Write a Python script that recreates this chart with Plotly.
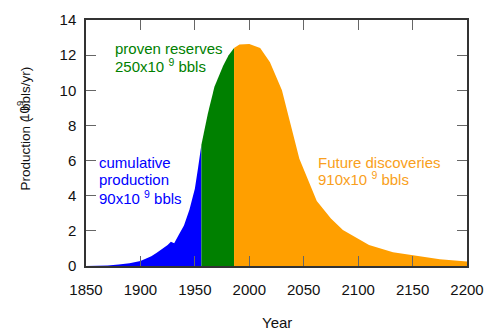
import plotly.graph_objects as go

years = [1850, 1860, 1870, 1880, 1890, 1900, 1905, 1910, 1915, 1920, 1925, 1928,
         1931, 1935, 1940, 1945, 1950, 1953, 1956, 1958, 1962, 1968, 1976, 1981,
         1986, 1991, 2000, 2010, 2019, 2030, 2037, 2046, 2062, 2075, 2086, 2110,
         2132, 2150, 2175, 2200]
production = [0, 0.01, 0.03, 0.08, 0.15, 0.28, 0.42, 0.55, 0.75, 0.95, 1.2, 1.38,
              1.3, 1.75, 2.3, 3.2, 4.4, 5.6, 6.9, 7.5, 8.7, 10.2, 11.4, 12.0,
              12.4, 12.6, 12.63, 12.4, 11.6, 10.0, 8.3, 6.1, 3.7, 2.7, 2.05, 1.2,
              0.78, 0.6, 0.38, 0.25]

split1 = 1956
split2 = 1986

segments = [
    ("cumulative", [y for y in years if y <= split1], "#0000FF"),
    ("proven", [y for y in years if split1 <= y <= split2], "#008000"),
    ("future", [y for y in years if y >= split2], "#FF9F00"),
]
lookup = dict(zip(years, production))

fig = go.Figure()
for name, xs, col in segments:
    fig.add_trace(go.Scatter(
        x=xs, y=[lookup[x] for x in xs], mode="lines", line=dict(width=0, color=col),
        fill="tozeroy", fillcolor=col, name=name, showlegend=False, hoverinfo="skip"))

font = "Liberation Sans, Arial, sans-serif"
FS = 15
axis_common = dict(showline=True, mirror="ticks", linecolor="#333", linewidth=1.5,
                   ticks="inside", ticklen=10, tickcolor="#666", tickwidth=1,
                   showgrid=False, zeroline=False,
                   tickfont=dict(family=font, size=FS, color="#111"))

fig.update_xaxes(range=[1850, 2200], dtick=50, tick0=1850, ticklabelstandoff=9, **axis_common)
fig.update_yaxes(range=[0, 14], dtick=2, tick0=0, ticklabelstandoff=5, **axis_common)

# (text, x-year, y-value of line center, colour)
label_lines = [
    ("proven reserves", 1874.8, (266 - 49.5) / 17.5, "#008000"),
    ("250x10 <sup>9</sup> bbls", 1874.8, (266 - 66.5) / 17.5, "#008000"),
    ("cumulative", 1859.8, (266 - 162.5) / 17.5, "#0000FF"),
    ("production", 1859.8, (266 - 180) / 17.5, "#0000FF"),
    ("90x10 <sup>9</sup> bbls", 1859.8, (266 - 197.5) / 17.5, "#0000FF"),
    ("Future discoveries", 2060.9, (266 - 162.5) / 17.5, "#F9A020"),
    ("910x10 <sup>9</sup> bbls", 2060.9, (266 - 179) / 17.5, "#F9A020"),
]
for txt, xv, yv, col in label_lines:
    fig.add_annotation(text=txt, x=xv, y=yv, xref="x", yref="y",
                       xanchor="left", yanchor="middle", align="left",
                       showarrow=False, font=dict(family=font, size=FS, color=col))

fig.add_annotation(text="Year", xref="paper", yref="paper", x=0.5, y=(266 - 322) / 246,
                   xanchor="center", yanchor="middle", showarrow=False,
                   font=dict(family=font, size=FS, color="#111"))

# y-axis title, drawn as in the reference with the "10^9" overlapping "bbls"
YT = 13.5
yfont = dict(family=font, size=YT, color="#111")
fig.add_annotation(text="Production (", xref="paper", yref="paper",
                   x=(25 - 86) / 381, y=(266 - 192) / 246, textangle=-90,
                   xanchor="center", yanchor="bottom", showarrow=False, font=yfont)
fig.add_annotation(text="10<sup>9</sup>", xref="paper", yref="paper",
                   x=(23 - 86) / 381, y=(266 - 123) / 246, textangle=-90,
                   xanchor="center", yanchor="bottom", showarrow=False, font=yfont)
fig.add_annotation(text="bbls/yr)", xref="paper", yref="paper",
                   x=(25 - 86) / 381, y=(266 - 65) / 246, textangle=-90,
                   xanchor="center", yanchor="top", showarrow=False, font=yfont)

fig.update_layout(width=500, height=334, margin=dict(l=86, r=33, t=20, b=68),
                  paper_bgcolor="white", plot_bgcolor="white")

fig.write_html("out.html")
